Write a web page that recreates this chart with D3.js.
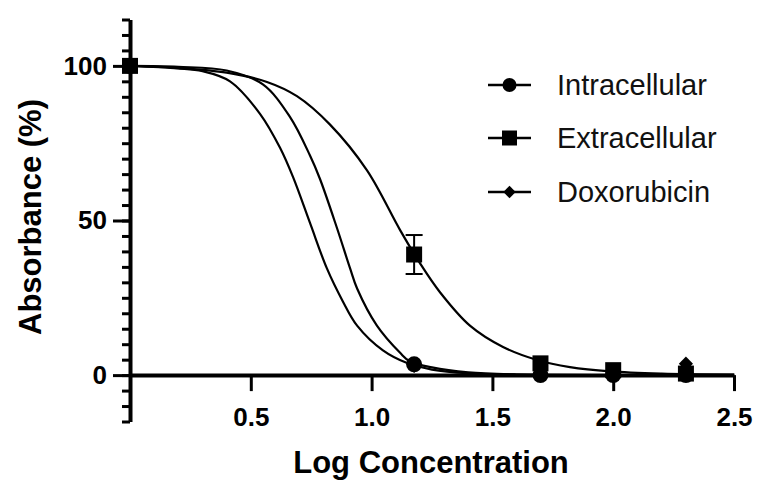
<!DOCTYPE html>
<html>
<head>
<meta charset="utf-8">
<script src="https://cdn.jsdelivr.net/npm/d3@7"></script>
<style>
  html, body { margin: 0; padding: 0; background: #fff; }
  svg { display: block; font-family: "Liberation Sans", Arial, sans-serif; }
</style>
</head>
<body>
<div id="chart"></div>
<script>
const width = 760;
const height = 484;

// measured points (log concentration vs absorbance %)
const concentrations = [0, 1.176, 1.699, 2.0, 2.301];
const intracellular = [100, 3.5, 0, 0, 0];
const extracellular = [100, 39, 3.8, 1.6, 0.5];
const extracellularErr = [0, 6.3, 0, 0, 0];
const doxorubicin = [100, 3, 0, 0, 3.7];

// fitted curves
const intraCurveX = [0, 0.2, 0.3, 0.414, 0.538, 0.621, 0.675, 0.745, 0.815, 0.88, 0.94, 1.047, 1.147, 1.25, 1.4, 1.6, 2.0, 2.5];
const intraCurveY = [100, 99.2, 98.3, 95, 84.5, 73.5, 64, 49.2, 34.5, 24, 16, 8, 3.9, 1.8, 0.6, 0.2, 0, 0];
const doxoCurveX = [0, 0.2, 0.4, 0.55, 0.662, 0.745, 0.786, 0.857, 0.911, 0.94, 1.022, 1.118, 1.159, 1.25, 1.4, 1.6, 2.0, 2.5];
const doxoCurveY = [100, 99.7, 98.5, 94, 83.5, 71, 63.5, 47.5, 34.5, 28, 16, 7.2, 4.4, 2.5, 0.9, 0.2, 0, 0];
const extraCurveX = [0, 0.2, 0.4, 0.567, 0.691, 0.828, 0.981, 1.118, 1.2, 1.283, 1.407, 1.544, 1.685, 1.821, 1.987, 2.2, 2.5];
const extraCurveY = [100, 99.3, 97.8, 94.8, 90.2, 81, 66.2, 46.9, 36.2, 26.8, 16, 9.1, 4.9, 2.6, 1.2, 0.5, 0.2];

const seriesNames = ["Intracellular", "Extracellular", "Doxorubicin"];
const xTicks = [0.5, 1.0, 1.5, 2.0, 2.5];
const yMajorTicks = [0, 50, 100];
const yMinorTicks = d3.range(-15, 116, 5);

const x = d3.scaleLinear().domain([0, 2.5]).range([130, 734]);
const y = d3.scaleLinear().domain([-15, 115]).range([421.5, 19.5]);

const svg = d3.select("#chart").append("svg")
  .attr("width", width)
  .attr("height", height);

// y axis: minor ticks then majors with labels
const yMinor = svg.append("g")
  .attr("transform", `translate(${x(0)},0)`)
  .call(d3.axisLeft(y).tickValues(yMinorTicks).tickSize(8).tickSizeOuter(0).tickFormat(""));
yMinor.select(".domain").attr("stroke-width", 4);
yMinor.selectAll(".tick line").attr("stroke-width", 3);

const yMajor = svg.append("g")
  .attr("transform", `translate(${x(0)},0)`)
  .call(d3.axisLeft(y).tickValues(yMajorTicks).tickSize(17).tickPadding(6).tickFormat(d3.format("d")));
yMajor.select(".domain").remove();
yMajor.selectAll(".tick line").attr("stroke-width", 3);
yMajor.selectAll(".tick text")
  .style("font-size", "26px")
  .style("font-weight", "bold")
  .attr("fill", "#000");

// x axis at y = 0
const xAxis = svg.append("g")
  .attr("transform", `translate(0,${y(0)})`)
  .call(d3.axisBottom(x).tickValues(xTicks).tickSize(16).tickPadding(16).tickSizeOuter(0).tickFormat(d3.format(".1f")));
xAxis.select(".domain").attr("stroke-width", 4);
xAxis.selectAll(".tick line").attr("stroke-width", 3);
xAxis.selectAll(".tick text")
  .style("font-size", "26px")
  .style("font-weight", "bold")
  .attr("fill", "#000");

// axis titles
svg.append("text")
  .attr("x", 431)
  .attr("y", 473)
  .attr("text-anchor", "middle")
  .style("font-size", "31px")
  .style("font-weight", "bold")
  .text("Log Concentration");

svg.append("text")
  .attr("transform", "rotate(-90)")
  .attr("x", -217)
  .attr("y", 41)
  .attr("text-anchor", "middle")
  .style("font-size", "31px")
  .style("font-weight", "bold")
  .text("Absorbance (%)");

// fitted curves
const line = d3.line()
  .x(d => x(d[0]))
  .y(d => y(d[1]))
  .curve(d3.curveCatmullRom.alpha(0.5));

[[extraCurveX, extraCurveY], [doxoCurveX, doxoCurveY], [intraCurveX, intraCurveY]].forEach(([cx, cy]) => {
  svg.append("path")
    .datum(cx.map((v, i) => [v, cy[i]]))
    .attr("fill", "none")
    .attr("stroke", "#000")
    .attr("stroke-width", 2.2)
    .attr("d", line);
});

// symbols
const symbolFor = {
  "Intracellular": d3.symbol().type(d3.symbolCircle).size(Math.PI * 64),
  "Extracellular": d3.symbol().type(d3.symbolSquare).size(256),
  "Doxorubicin": d3.symbol().type(d3.symbolDiamond2).size(128)
};
const legendSymbolFor = {
  "Intracellular": d3.symbol().type(d3.symbolCircle).size(Math.PI * 49),
  "Extracellular": d3.symbol().type(d3.symbolSquare).size(225),
  "Doxorubicin": d3.symbol().type(d3.symbolDiamond2).size(98)
};

// error bars
concentrations.forEach((c, i) => {
  if (extracellularErr[i] > 0) {
    const g = svg.append("g").attr("stroke", "#000").attr("stroke-width", 2);
    const lo = y(extracellular[i] - extracellularErr[i]);
    const hi = y(extracellular[i] + extracellularErr[i]);
    g.append("line").attr("x1", x(c)).attr("x2", x(c)).attr("y1", lo).attr("y2", hi);
    g.append("line").attr("x1", x(c) - 8.5).attr("x2", x(c) + 8.5).attr("y1", lo).attr("y2", lo);
    g.append("line").attr("x1", x(c) - 8.5).attr("x2", x(c) + 8.5).attr("y1", hi).attr("y2", hi);
  }
});

const pointSets = [
  ["Doxorubicin", doxorubicin],
  ["Extracellular", extracellular],
  ["Intracellular", intracellular]
];
pointSets.forEach(([name, vals]) => {
  svg.append("g").selectAll("path")
    .data(concentrations.map((c, i) => [c, vals[i]]))
    .join("path")
    .attr("transform", d => `translate(${x(d[0])},${y(d[1])})`)
    .attr("d", symbolFor[name])
    .attr("fill", "#000");
});

// legend
const legend = svg.append("g");
const legendRows = [85, 138, 192];
seriesNames.forEach((name, i) => {
  const row = legend.append("g").attr("transform", `translate(0,${legendRows[i]})`);
  row.append("line")
    .attr("x1", 488).attr("x2", 531)
    .attr("stroke", "#000").attr("stroke-width", 2.5);
  row.append("path")
    .attr("transform", "translate(509.5,0)")
    .attr("d", legendSymbolFor[name])
    .attr("fill", "#000");
  row.append("text")
    .attr("x", 557)
    .attr("y", 10)
    .style("font-size", "29px")
    .attr("fill", "#111")
    .text(name);
});
</script>
</body>
</html>
